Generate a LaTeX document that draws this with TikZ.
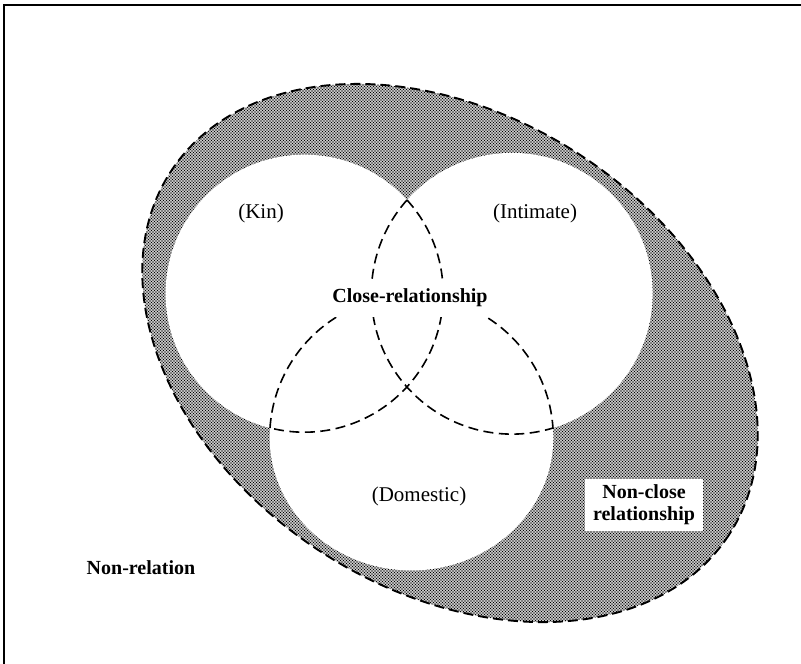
\documentclass[tikz,border=0pt]{standalone}
\usepackage{fontspec}
\setmainfont{Liberation Serif}
\usetikzlibrary{patterns}

% halftone dot screen used for the non-close band
\pgfdeclarepatternformonly{halftone}{\pgfqpoint{-1pt}{-1pt}}{\pgfqpoint{2.5pt}{2.5pt}}{\pgfqpoint{3pt}{3pt}}{%
  \pgfpathcircle{\pgfqpoint{0pt}{0pt}}{0.95pt}%
  \pgfpathcircle{\pgfqpoint{1.5pt}{1.5pt}}{0.95pt}%
  \pgfusepath{fill}}

\begin{document}
\begin{tikzpicture}[x=1pt,y=-1pt,
  frame/.style={line width=2pt},
  outerdash/.style={line width=1.9pt, dash pattern=on 10pt off 5pt},
  innerdash/.style={line width=1.6pt, dash pattern=on 10pt off 5.5pt},
  lobetext/.style={font=\fontsize{21}{23}\selectfont, inner sep=0pt},
  keytext/.style={font=\fontsize{20}{22}\selectfont\bfseries, inner sep=0pt}]

\useasboundingbox (0,0) rectangle (801,664);

% centres and meeting points
\coordinate (C) at (450,353);
\coordinate (K) at (304.4,293.5);
\coordinate (I) at (512,293.5);
\coordinate (D) at (411.5,437.4);
\coordinate (T) at (407,200);
\coordinate (BL) at (270,428);
\coordinate (BR) at (553,428);

% outer frame
\draw[frame] (4,664) -- (4,5) -- (801,5);

% relationship ellipse, screened
\fill[pattern=halftone, rotate around={-33:(C)}] (C) ellipse [x radius=333, y radius=237];

% the three close-relationship regions
\fill[white] (K) circle [radius=138.8] (I) circle [radius=140.6]
  (D) ellipse [x radius=141.8, y radius=133];

% dashed outline of the ellipse
\draw[outerdash, rotate around={-33:(C)}] (C) ellipse [x radius=333, y radius=237];

% inner dashed arcs
\draw[innerdash] (T) arc [start angle=-42.3, end angle=104.35, radius=138.8];
\draw[innerdash] (T) arc [start angle=221.7, end angle=73.05, radius=140.6];
\draw[innerdash] (BL) arc [start angle=183.8, end angle=356.2, radius=141.8];

% labels
\node[lobetext] (kin) at (261,213) {(Kin)};
\node[lobetext] (intimate) at (535,213) {(Intimate)};
\node[lobetext] (domestic) at (419,496) {(Domestic)};
\node[keytext, fill=white, inner xsep=2pt, inner ysep=10pt] (close) at (410,298) {Close-relationship};
\node[keytext, fill=white, align=center, inner xsep=8pt, inner ysep=6pt] (nonclose) at (644,505) {Non-close\\relationship};
\node[keytext] (nonrel) at (141,568) {Non-relation};
\end{tikzpicture}
\end{document}
